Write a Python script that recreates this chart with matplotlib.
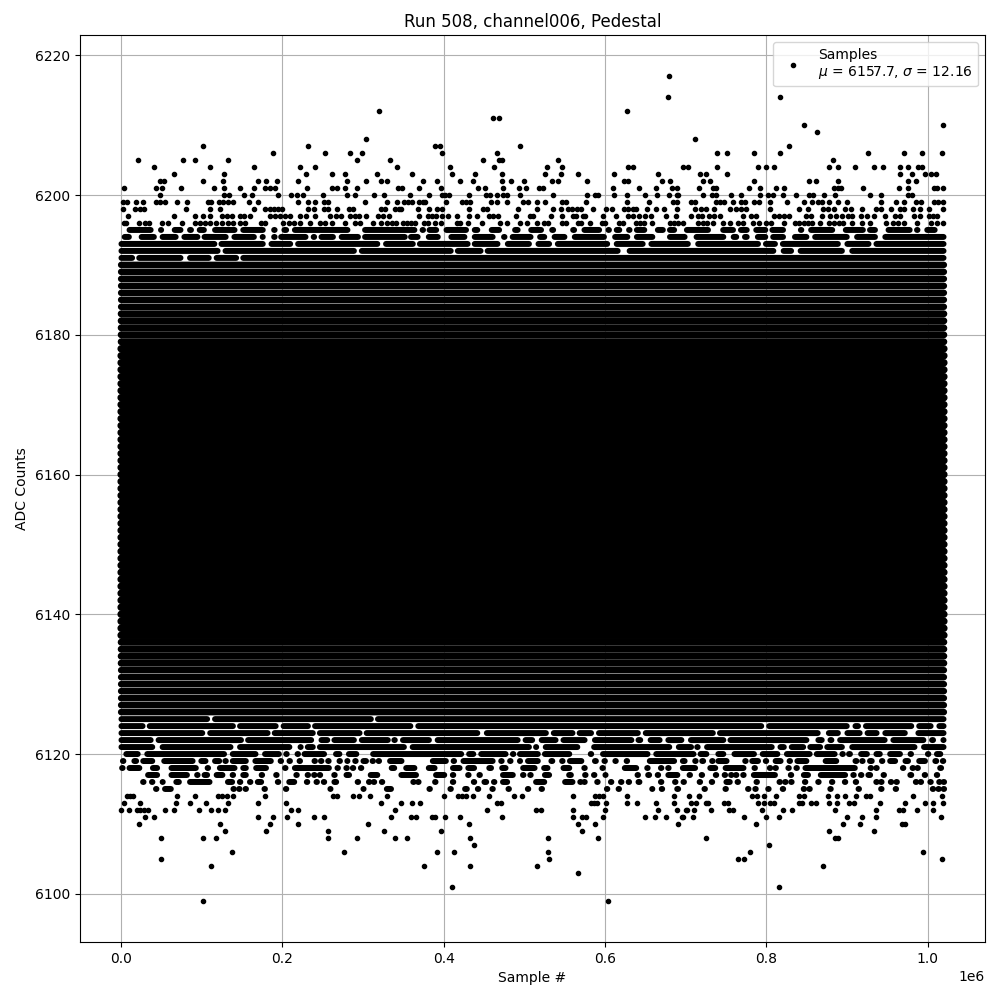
import matplotlib
matplotlib.use('Agg')
import matplotlib.pyplot as plt

# Sample numbers below are in thousands
# (ADC counts are integers, so the samples sit on horizontal rows)
title = 'Run 508, channel006, Pedestal'
legend_label = 'Samples\n$\\mu$ = 6157.7, $\\sigma$ = 12.16'
first_sample = 0
last_sample = 1020

# Rows where single dots can be told apart
x_6217 = [679]
x_6214 = [678, 817]
x_6212 = [320, 627]
x_6211 = [461, 468]
x_6210 = [846, 1019]
x_6209 = [863]
x_6208 = [303, 711]
x_6207 = [102, 232, 389, 395, 494, 828]
x_6206 = [188, 253, 284, 299, 398, 466, 739, 751, 785, 817, 926, 970, 993, 1018]
x_6205 = [21, 77, 91, 133, 292, 333, 449, 468, 472, 541, 883]
x_6204 = [41, 110, 165, 222, 240, 342, 408, 462, 528, 546, 629, 634, 696, 703,
          739, 790, 799, 810, 878, 889, 910, 934, 945, 965, 976, 988, 993]
x_6203 = [66, 127, 229, 262, 277, 317, 360, 410, 439, 472, 526, 545, 567, 611, 665,
          718, 725, 751, 965, 981, 996, 1004, 1010]
x_6202 = [48, 53, 102, 126, 170, 179, 193, 219, 280, 304, 322, 330, 374, 392, 420, 436,
          472, 483, 500, 534, 541, 578, 624, 628, 671, 681, 722, 730, 785, 853, 861,
          889, 976, 985]
x_6201 = [3, 43, 51, 74, 115, 127, 147, 165, 178, 184, 191, 231, 261, 268, 278, 292, 343,
          348, 369, 397, 443, 451, 473, 493, 502, 518, 523, 610, 642, 663, 683, 689, 716,
          734, 738, 779, 792, 812, 822, 884, 889, 893, 920, 964, 976, 1008, 1011, 1019]
x_6200 = [48, 127, 134, 152, 162, 195, 210, 218, 226, 250, 280, 290, 313, 326, 358, 382,
          398, 402, 407, 431, 452, 457, 466, 474, 479, 495, 536, 577, 587, 591, 611, 627,
          650, 664, 679, 689, 691, 722, 732, 738, 756, 769, 792, 802, 808, 820, 837, 853,
          858, 872, 885, 928, 942, 976, 980]
x_6199 = [2, 7, 18, 27, 43, 48, 55, 69, 82, 108, 112, 121, 126, 132, 139, 158, 170, 219,
          232, 240, 252, 257, 302, 330, 342, 351, 356, 361, 369, 374, 377, 403, 422, 427,
          432, 458, 466, 479, 498, 505, 516, 526, 546, 551, 576, 627, 655, 684, 689, 706,
          711, 737, 743, 748, 758, 769, 774, 785, 791, 805, 826, 846, 857, 864, 869, 877,
          889, 900, 942, 961, 971, 985, 992, 1008, 1013, 1019]
x_6198 = [2, 17, 24, 28, 81, 110, 122, 165, 178, 185, 190, 195, 200, 232, 239, 252, 256,
          268, 283, 288, 322, 327, 339, 345, 347, 368, 382, 392, 398, 431, 449, 454, 492,
          516, 536, 545, 554, 559, 565, 570, 585, 601, 608, 624, 629, 634, 638, 652, 663,
          673, 689, 711, 719, 725, 735, 755, 762, 768, 775, 805, 840, 852, 870, 876, 884,
          897, 905, 918, 936, 942, 954, 965, 971, 982, 990, 1001, 1019]
x_6197 = [8, 65, 91, 101, 110, 125, 131, 138, 147, 152, 160, 185, 191, 197, 203, 209, 222,
          229, 240, 259, 266, 272, 284, 290, 295, 303, 318, 325, 332, 369, 380, 385, 390,
          398, 405, 416, 431, 441, 456, 461, 467, 490, 507, 510, 533, 546, 560, 564, 572,
          575, 598, 614, 629, 634, 642, 649, 657, 675, 688, 706, 715, 720, 729, 735, 743,
          771, 781, 787, 810, 816, 822, 828, 849, 855, 869, 879, 886, 894, 901, 906, 917,
          925, 933, 947, 959, 965, 983, 991, 1002, 1006, 1012]
x_6196 = [3, 6, 22, 29, 34, 51, 58, 75, 91, 98, 104, 110, 117, 125, 133, 139, 147, 153,
          173, 178, 201, 208, 214, 222, 234, 247, 253, 262, 277, 290, 296, 312, 322, 330,
          336, 341, 349, 354, 359, 364, 375, 381, 389, 397, 417, 420, 430, 448, 470, 478,
          494, 503, 515, 524, 529, 546, 551, 567, 570, 581, 596, 600, 617, 622, 638, 643,
          648, 658, 680, 685, 691, 696, 715, 721, 726, 734, 746, 755, 765, 771, 783, 791,
          799, 806, 822, 835, 841, 847, 851, 856, 866, 877, 884, 890, 895, 906, 918, 929,
          948, 957, 963, 971, 987, 1004, 1012, 1019]
x_6114 = [7, 11, 15, 69, 91, 120, 125, 131, 139, 178, 263, 268, 287, 295, 308, 329, 400,
          418, 423, 428, 436, 456, 487, 497, 560, 588, 593, 598, 627, 686, 704, 716, 717,
          782, 788, 797, 812, 840, 847, 876, 888, 897, 911, 924, 928, 982, 1018]
x_6113 = [3, 24, 68, 85, 105, 133, 170, 205, 322, 347, 361, 371, 466, 471, 582, 586, 590,
          601, 627, 640, 663, 686, 707, 713, 725, 728, 748, 752, 790, 797, 805, 810, 840,
          844, 855, 861, 878, 888, 903, 908, 941, 972, 996, 1007, 1019]
x_6112 = [0, 10, 20, 24, 28, 33, 54, 65, 96, 112, 120, 129, 210, 219, 340, 454, 514, 520,
          560, 600, 665, 689, 700, 701, 710, 731, 754, 758, 794, 820, 832, 885, 936, 964,
          969, 987, 1007]
x_6111 = [29, 41, 170, 188, 206, 239, 251, 335, 359, 366, 386, 389, 401, 420, 472, 560,
          571, 576, 598, 650, 662, 676, 695, 696, 709, 772, 800, 815, 900, 918, 936, 1017]
x_6110 = [22, 122, 185, 219, 306, 431, 566, 587, 690, 787, 895, 916, 968, 972]
x_6109 = [129, 179, 256, 326, 396, 571, 878, 934]
x_6108 = [50, 101, 117, 256, 292, 339, 354, 432, 529, 591, 725, 885, 889]
x_6107 = [438, 803]
x_6106 = [137, 276, 392, 413, 529, 780, 994]
x_6105 = [50, 530, 765, 772, 1018]
x_6104 = [111, 376, 432, 516, 870]
x_6103 = [566]
x_6101 = [410, 816]
x_6099 = [102, 604]

dot_levels = [6217, 6214, 6212, 6211, 6210, 6209, 6208, 6207, 6206, 6205, 6204, 6203, 6202,
              6201, 6200, 6199, 6198, 6197, 6196, 6114, 6113, 6112, 6111, 6110, 6109, 6108,
              6107, 6106, 6105, 6104, 6103, 6101, 6099]
dot_rows = [x_6217, x_6214, x_6212, x_6211, x_6210, x_6209, x_6208, x_6207, x_6206, x_6205,
            x_6204, x_6203, x_6202, x_6201, x_6200, x_6199, x_6198, x_6197, x_6196, x_6114,
            x_6113, x_6112, x_6111, x_6110, x_6109, x_6108, x_6107, x_6106, x_6105, x_6104,
            x_6103, x_6101, x_6099]

# Rows where dots merge into dashes: (first, last) sample of each dash, outer edges
runs_6195 = [(7, 40), (46, 53), (63, 77), (82, 90), (94, 106), (113, 144), (148, 179), (187, 193),
             (199, 208), (212, 284), (299, 367), (371, 377), (379, 394), (400, 431), (435, 445),
             (456, 472), (485, 495), (505, 524), (531, 539), (557, 565), (571, 596), (602, 607),
             (611, 621), (627, 633), (636, 652), (662, 675), (677, 689), (698, 731), (743, 762),
             (765, 779), (784, 802), (804, 824), (843, 843), (852, 885), (895, 923), (925, 938),
             (948, 981), (987, 987), (996, 1012)]
runs_6194 = [(1, 13), (22, 44), (48, 71), (75, 98), (100, 133), (137, 168), (172, 179), (189, 191),
             (195, 232), (237, 241), (245, 266), (270, 297), (299, 355), (356, 371), (378, 396),
             (406, 429), (435, 464), (472, 478), (482, 511), (516, 528), (534, 553), (559, 602),
             (609, 631), (636, 662), (677, 702), (710, 750), (756, 766), (770, 779), (786, 802),
             (805, 824), (832, 853), (857, 903), (909, 938), (944, 1023)]
runs_6193 = [(-3, 119), (121, 179), (183, 213), (216, 321), (325, 365), (367, 433), (435, 470),
             (476, 509), (514, 534), (538, 606), (611, 650), (654, 706), (712, 793), (796, 814),
             (817, 892), (897, 930), (933, 1023)]
runs_6192 = [(-3, 123), (126, 292), (295, 412), (414, 449), (451, 619), (627, 812), (818, 834),
             (839, 897), (903, 1023)]
runs_6191 = [(-3, 17), (19, 77), (82, 112), (115, 146), (148, 1023)]
runs_6125 = [(-3, 110), (113, 313), (315, 1023)]
runs_6124 = [(-3, 30), (32, 142), (144, 195), (198, 235), (237, 362), (365, 797), (800, 903),
             (907, 917), (920, 983), (986, 1007), (1011, 1023)]
runs_6123 = [(-3, 104), (107, 185), (187, 241), (243, 299), (301, 445), (450, 530), (533, 563),
             (565, 586), (589, 644), (647, 737), (739, 867), (874, 892), (897, 919), (922, 940),
             (944, 975), (985, 1023)]
runs_6122 = [(-3, 40), (43, 152), (154, 239), (245, 259), (261, 292), (295, 334), (336, 342),
             (346, 385), (389, 495), (498, 513), (518, 542), (545, 578), (584, 636), (638, 647),
             (653, 671), (675, 698), (703, 750), (752, 853), (861, 872), (876, 884), (888, 950),
             (954, 998), (1002, 1010), (1016, 1023)]
runs_6121 = [(-3, 42), (48, 139), (144, 212), (219, 226), (228, 241), (243, 354), (358, 509),
             (511, 518), (523, 569), (583, 683), (688, 710), (714, 715), (723, 810), (814, 825),
             (828, 849), (851, 870), (872, 897), (903, 987), (992, 1023)]
runs_6120 = [(3, 24), (29, 131), (135, 170), (175, 199), (202, 208), (216, 222), (224, 255),
             (263, 274), (279, 295), (309, 425), (428, 440), (443, 480), (483, 489), (491, 520),
             (522, 559), (580, 585), (594, 656), (660, 713), (715, 729), (737, 750), (757, 788),
             (792, 817), (822, 857), (859, 888), (892, 897), (899, 907), (914, 928), (933, 944),
             (950, 969), (977, 981), (998, 1003), (1008, 1019)]
runs_6119 = [(0, 5), (13, 22), (24, 42), (50, 92), (96, 108), (113, 125), (128, 131), (135, 158),
             (163, 189), (195, 201), (206, 212), (219, 224), (237, 243), (245, 251), (255, 259),
             (268, 274), (277, 284), (288, 293), (297, 307), (310, 314), (317, 322), (330, 351),
             (383, 406), (410, 415), (421, 464), (469, 474), (480, 485), (491, 498), (501, 520),
             (530, 538), (545, 549), (553, 574), (584, 592), (597, 602), (611, 615), (625, 629),
             (652, 689), (693, 702), (710, 714), (717, 725), (731, 735), (737, 754), (771, 777),
             (779, 793), (797, 802), (808, 821), (826, 832), (835, 853), (870, 890), (907, 915),
             (917, 921), (925, 934), (941, 946), (950, 963), (969, 979), (986, 1000), (1006, 1014),
             (1018, 1020)]
runs_6118 = [(1, 2), (7, 26), (36, 48), (59, 96), (107, 108), (119, 144), (148, 158), (164, 183),
             (203, 204), (212, 261), (268, 269), (279, 280), (287, 288), (297, 298), (332, 342),
             (350, 367), (378, 392), (408, 423), (427, 441), (453, 462), (469, 480), (495, 516),
             (521, 532), (545, 559), (574, 575), (594, 600), (621, 642), (652, 653), (669, 670),
             (678, 679), (693, 715), (727, 740), (746, 775), (785, 786), (804, 805), (811, 812),
             (827, 828), (837, 838), (845, 913), (929, 930), (936, 937), (969, 970), (981, 982),
             (987, 988), (1012, 1020)]
runs_6117 = [(30, 48), (59, 85), (94, 95), (100, 110), (115, 129), (138, 139), (148, 158), (174, 175),
             (192, 193), (217, 218), (231, 232), (239, 240), (246, 247), (264, 265), (276, 286),
             (306, 321), (344, 369), (387, 404), (411, 412), (430, 431), (442, 447), (470, 489),
             (498, 499), (507, 508), (522, 534), (552, 561), (575, 576), (586, 587), (597, 604),
             (640, 641), (650, 658), (665, 666), (675, 693), (702, 708), (717, 723), (737, 738),
             (748, 749), (756, 757), (762, 763), (771, 772), (781, 814), (830, 831), (843, 855),
             (864, 901), (905, 911), (917, 918), (923, 932), (945, 946), (975, 983), (996, 997),
             (1011, 1012)]
runs_6116 = [(27, 28), (38, 39), (48, 55), (65, 75), (82, 113), (129, 141), (147, 148), (158, 162),
             (166, 177), (194, 195), (205, 218), (230, 231), (242, 243), (251, 252), (261, 270),
             (293, 294), (307, 308), (313, 314), (323, 324), (362, 363), (368, 369), (389, 390),
             (411, 412), (437, 438), (447, 456), (462, 463), (470, 482), (511, 528), (547, 563),
             (569, 570), (574, 575), (590, 591), (607, 608), (617, 623), (629, 630), (638, 646),
             (669, 670), (685, 689), (697, 698), (717, 718), (732, 733), (747, 758), (764, 765),
             (785, 791), (816, 817), (823, 824), (828, 834), (845, 851), (864, 865), (881, 882),
             (895, 900), (908, 914), (936, 937), (942, 943), (954, 955), (961, 962), (985, 986),
             (991, 992), (1003, 1004), (1014, 1015), (1020, 1020)]
runs_6115 = [(43, 44), (51, 65), (139, 140), (146, 147), (154, 155), (175, 181), (204, 205), (256, 263),
             (297, 304), (326, 338), (382, 383), (408, 409), (423, 432), (442, 443), (458, 463),
             (480, 481), (504, 505), (521, 522), (602, 603), (615, 619), (655, 662), (670, 671),
             (686, 694), (723, 724), (749, 750), (777, 778), (786, 787), (802, 803), (820, 821),
             (846, 847), (853, 854), (879, 880), (914, 915), (942, 943), (960, 961), (1006, 1007),
             (1013, 1014), (1020, 1020)]

run_levels = [6195, 6194, 6193, 6192, 6191, 6125, 6124, 6123, 6122, 6121, 6120, 6119, 6118,
              6117, 6116, 6115]
run_rows = [runs_6195, runs_6194, runs_6193, runs_6192, runs_6191, runs_6125, runs_6124,
            runs_6123, runs_6122, runs_6121, runs_6120, runs_6119, runs_6118, runs_6117,
            runs_6116, runs_6115]

# Rows that run unbroken across the whole capture
outer_levels = [6190, 6189, 6188, 6187, 6186, 6185, 6184, 6126, 6127, 6128, 6129, 6130, 6131, 6132]
middle_levels = [6183, 6182, 6181, 6180, 6179, 6133, 6134, 6135, 6136]
core_levels = [6178, 6177, 6176, 6175, 6174, 6173, 6172, 6171, 6170, 6169, 6168, 6167, 6166, 6165,
               6164, 6163, 6162, 6161, 6160, 6159, 6158, 6157, 6156, 6155, 6154, 6153, 6152, 6151,
               6150, 6149, 6148, 6147, 6146, 6145, 6144, 6143, 6142, 6141, 6140, 6139, 6138, 6137]

fig, ax = plt.subplots(figsize=(10, 10))

dots_x = []
dots_y = []
for level, row in zip(dot_levels, dot_rows):
    for x in row:
        dots_x.append(x * 1000)
        dots_y.append(level)
ax.plot(dots_x, dots_y, 'k.', label=legend_label)

# Dashes were read by their outer edges, the round caps add a dot radius back
cap = 3.4
for level, row in zip(run_levels, run_rows):
    starts = []
    stops = []
    for a, b in row:
        if b - a > 2 * cap:
            starts.append((a + cap) * 1000)
            stops.append((b - cap) * 1000)
        else:
            starts.append((a + b) / 2 * 1000 - 300)
            stops.append((a + b) / 2 * 1000 + 300)
    lines = ax.hlines([level] * len(row), starts, stops, colors='k', linewidth=4.3,
                      capstyle='round', zorder=2)
    lines.set_snap(False)

for levels, width in [(outer_levels, 4.7), (middle_levels, 5.0), (core_levels, 5.4)]:
    lines = ax.hlines(levels, first_sample * 1000, last_sample * 1000, colors='k',
                      linewidth=width, capstyle='round', zorder=2)
    lines.set_snap(False)

ax.set_xlim(-51000, 1071000)
ax.set_ylim(6093.1, 6222.9)
ax.set_xlabel('Sample #')
ax.set_ylabel('ADC Counts')
ax.set_title(title)
ax.grid(True)
ax.legend(loc='upper right')
fig.subplots_adjust(left=0.08, right=0.985, top=0.965, bottom=0.058)

plt.savefig('out.png', dpi=100)
